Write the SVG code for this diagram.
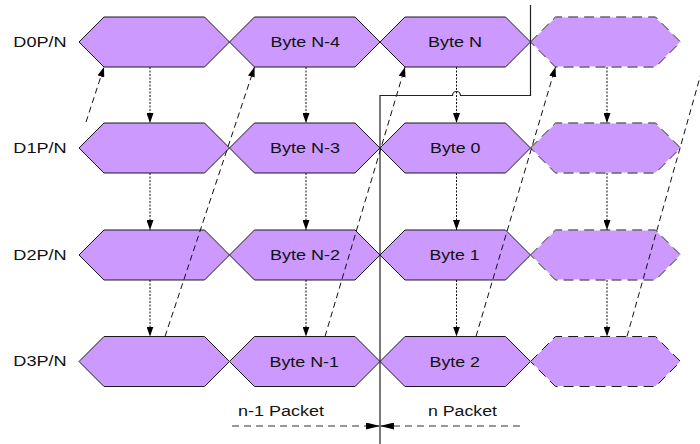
<svg xmlns="http://www.w3.org/2000/svg" width="700" height="444" viewBox="0 0 700 444">
<style>
.hex{fill:#CC99FF;stroke:#1a1a1a;stroke-width:1}
.hexd{fill:#CC99FF;stroke:#ffffff;stroke-width:1}
.hexdash{fill:none;stroke:#1a1a1a;stroke-width:1;stroke-dasharray:10,6}
.t{font-family:"Liberation Sans",Arial,sans-serif;font-size:14px;fill:#111}
.pk{font-family:"Liberation Sans",Arial,sans-serif;font-size:14px;fill:#111}
.dot{fill:none;stroke:#111;stroke-width:1;stroke-dasharray:2,1.5;marker-end:url(#ah)}
.dash{fill:none;stroke:#111;stroke-width:1;stroke-dasharray:6,4}
.dashA{marker-end:url(#ah)}
.solid{fill:none;stroke:#222;stroke-width:1.2}
.pkl{fill:none;stroke:#777;stroke-width:1.5;stroke-dasharray:7,5;marker-end:url(#ah2)}
</style>
<defs>
<marker id="ah" markerUnits="userSpaceOnUse" markerWidth="10" markerHeight="7" refX="10" refY="3.5" orient="auto">
<path d="M0,0 L10,3.5 L0,7 z" fill="#000"/>
</marker>
<marker id="ah2" markerUnits="userSpaceOnUse" markerWidth="14" markerHeight="7" refX="14" refY="3.5" orient="auto">
<path d="M0,0 L14,3.5 L0,7 z" fill="#000"/>
</marker>
</defs>

<g id="labels">
<text class="t" x="13.3" y="46.8" textLength="53.4" lengthAdjust="spacingAndGlyphs">D0P/N</text>
<text class="t" x="13.3" y="152.8" textLength="53.4" lengthAdjust="spacingAndGlyphs">D1P/N</text>
<text class="t" x="13.3" y="259.8" textLength="53.4" lengthAdjust="spacingAndGlyphs">D2P/N</text>
<text class="t" x="13.3" y="366" textLength="53.4" lengthAdjust="spacingAndGlyphs">D3P/N</text>
</g>

<!-- Row 0 -->
<g id="r0c1"><polygon class="hex" points="79,42 104,17 204.5,17 229.5,42 204.5,67 104,67"/></g>
<g id="r0c2"><polygon class="hex" points="229.5,42 254.5,17 355,17 380,42 355,67 254.5,67"/>
<text class="t" x="270.5" y="47" textLength="69.5" lengthAdjust="spacingAndGlyphs">Byte N-4</text></g>
<g id="r0c3"><polygon class="hex" points="380,42 405,17 505.5,17 530.5,42 505.5,67 405,67"/>
<text class="t" x="428" y="47" textLength="54" lengthAdjust="spacingAndGlyphs">Byte N</text></g>
<g id="r0c4"><polygon class="hexd" points="530.5,42 555.5,17 655.5,17 680.5,42 655.5,67 555.5,67"/>
<polygon class="hexdash" points="530.5,42 555.5,17 655.5,17 680.5,42 655.5,67 555.5,67"/></g>

<!-- Row 1 -->
<g id="r1c1"><polygon class="hex" points="79,148 104,123 204.5,123 229.5,148 204.5,173 104,173"/></g>
<g id="r1c2"><polygon class="hex" points="229.5,148 254.5,123 355,123 380,148 355,173 254.5,173"/>
<text class="t" x="270" y="153" textLength="70" lengthAdjust="spacingAndGlyphs">Byte N-3</text></g>
<g id="r1c3"><polygon class="hex" points="380,148 405,123 505.5,123 530.5,148 505.5,173 405,173"/>
<text class="t" x="430" y="153" textLength="50.5" lengthAdjust="spacingAndGlyphs">Byte 0</text></g>
<g id="r1c4"><polygon class="hexd" points="530.5,148 555.5,123 655.5,123 680.5,148 655.5,173 555.5,173"/>
<polygon class="hexdash" points="530.5,148 555.5,123 655.5,123 680.5,148 655.5,173 555.5,173"/></g>

<!-- Row 2 -->
<g id="r2c1"><polygon class="hex" points="79,255 104,230 204.5,230 229.5,255 204.5,280 104,280"/></g>
<g id="r2c2"><polygon class="hex" points="229.5,255 254.5,230 355,230 380,255 355,280 254.5,280"/>
<text class="t" x="270" y="260" textLength="70" lengthAdjust="spacingAndGlyphs">Byte N-2</text></g>
<g id="r2c3"><polygon class="hex" points="380,255 405,230 505.5,230 530.5,255 505.5,280 405,280"/>
<text class="t" x="429.5" y="260" textLength="50" lengthAdjust="spacingAndGlyphs">Byte 1</text></g>
<g id="r2c4"><polygon class="hexd" points="530.5,255 555.5,230 655.5,230 680.5,255 655.5,280 555.5,280"/>
<polygon class="hexdash" points="530.5,255 555.5,230 655.5,230 680.5,255 655.5,280 555.5,280"/></g>

<!-- Row 3 -->
<g id="r3c1"><polygon class="hex" points="79,361.5 104,336.5 204.5,336.5 229.5,361.5 204.5,386.5 104,386.5"/></g>
<g id="r3c2"><polygon class="hex" points="229.5,361.5 254.5,336.5 355,336.5 380,361.5 355,386.5 254.5,386.5"/>
<text class="t" x="269.5" y="366.5" textLength="69.5" lengthAdjust="spacingAndGlyphs">Byte N-1</text></g>
<g id="r3c3"><polygon class="hex" points="380,361.5 405,336.5 505.5,336.5 530.5,361.5 505.5,386.5 405,386.5"/>
<text class="t" x="429.5" y="366.5" textLength="50.5" lengthAdjust="spacingAndGlyphs">Byte 2</text></g>
<g id="r3c4"><polygon class="hexd" points="530.5,361.5 555.5,336.5 655.5,336.5 680.5,361.5 655.5,386.5 555.5,386.5"/>
<polygon class="hexdash" points="530.5,361.5 555.5,336.5 655.5,336.5 680.5,361.5 655.5,386.5 555.5,386.5"/></g>

<g id="packets">
<text class="pk" x="238" y="416" textLength="86" lengthAdjust="spacingAndGlyphs">n-1 Packet</text>
<text class="pk" x="428" y="416" textLength="69" lengthAdjust="spacingAndGlyphs">n Packet</text>
</g>

<g id="connectors">
<line class="dot" x1="150" y1="67" x2="150" y2="123"/>
<line class="dot" x1="150" y1="173" x2="150" y2="230"/>
<line class="dot" x1="150" y1="280" x2="150" y2="336.5"/>
<line class="dot" x1="306" y1="67" x2="306" y2="123"/>
<line class="dot" x1="306" y1="173" x2="306" y2="230"/>
<line class="dot" x1="306" y1="280" x2="306" y2="336.5"/>
<line class="dot" x1="456.5" y1="67" x2="456.5" y2="123"/>
<line class="dot" x1="456.5" y1="173" x2="456.5" y2="230"/>
<line class="dot" x1="456.5" y1="280" x2="456.5" y2="336.5"/>
<line class="dot" x1="607" y1="67" x2="607" y2="123"/>
<line class="dot" x1="607" y1="173" x2="607" y2="230"/>
<line class="dot" x1="607" y1="280" x2="607" y2="336.5"/>
<line class="dash dashA" x1="86" y1="122" x2="104" y2="67"/>
<line class="dash dashA" x1="165" y1="336.5" x2="254.5" y2="67"/>
<line class="dash dashA" x1="325" y1="336.5" x2="405" y2="67"/>
<line class="dash dashA" x1="476" y1="336.5" x2="555.5" y2="67"/>
<line class="dash" x1="627" y1="336.5" x2="702" y2="70"/>
<path class="solid" d="M530.5,5 V95.5 H460.5 A4,4 0 0 0 452.5,95.5 H380 V444"/>
<line class="pkl" x1="232" y1="426" x2="380" y2="426"/>
<line class="pkl" x1="520" y1="426" x2="380" y2="426"/>
</g>
</svg>
